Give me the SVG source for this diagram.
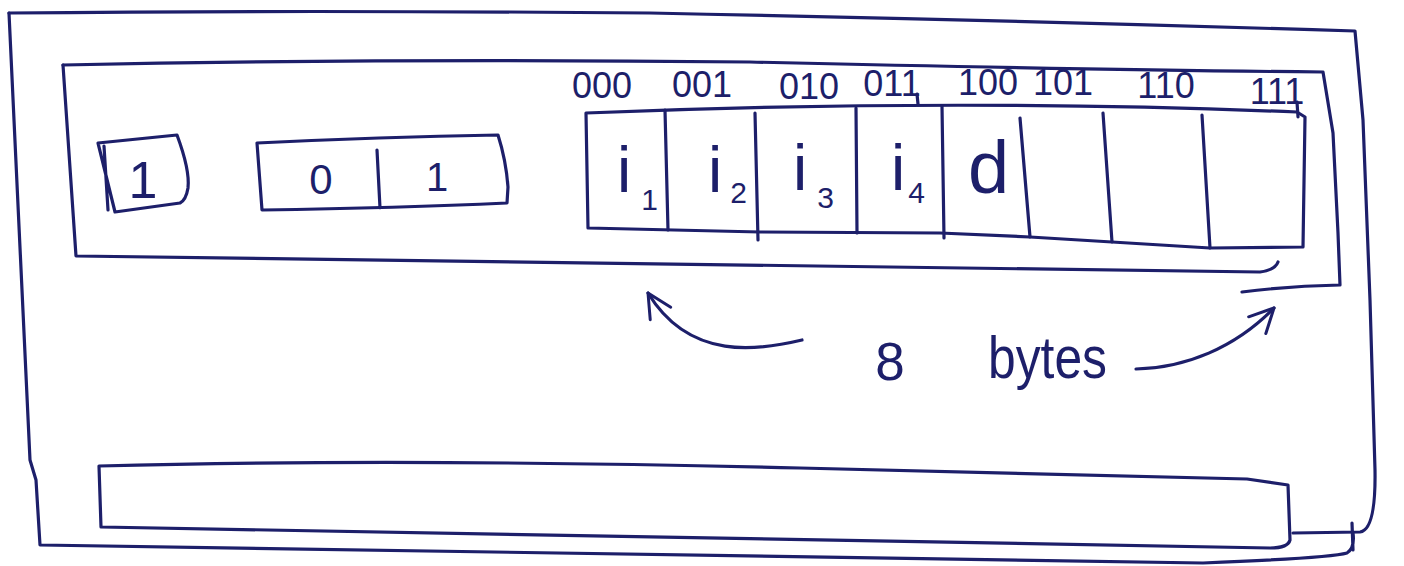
<svg xmlns="http://www.w3.org/2000/svg" width="1404" height="566" viewBox="0 0 1404 566">
<defs>
<style>
.ln{fill:none;stroke:#1d1f6a;stroke-width:3.2;stroke-linecap:round;stroke-linejoin:round}
.tx{font-family:"Liberation Sans",Arial,sans-serif;fill:#1d1f6a;font-weight:normal}
.lab{font-size:36px}
.ix{font-size:64px}
.sub{font-size:30px}
</style>
<marker id="ah" viewBox="0 0 28 28" refX="26" refY="14" markerWidth="28" markerHeight="28" markerUnits="userSpaceOnUse" orient="auto">
<path d="M2,2 L26,14 L2,26" fill="none" stroke="#1d1f6a" stroke-width="3" stroke-linecap="round" stroke-linejoin="round"/>
</marker>
</defs>
<rect width="1404" height="566" fill="#ffffff"/>
<g id="outer-box">
<path class="ln" d="M9,13 Q300,10 650,13 Q1000,20 1355,31 L1363,120 L1370,300 L1375,470 Q1376,530 1360,532 L1293,533"/>
<path class="ln" d="M9,13 L14,120 L30,460 L36,480 L40,545 Q600,552 1203,563 Q1330,558 1347,553 Q1355,548 1353,533 M1352,523 L1353,550"/>
</g>
<g id="inner-box">
<path class="ln" d="M63,65 Q400,58 750,62 Q1100,70 1323,72 L1333,133 L1338,233 L1340,285 Q1290,286 1242,292"/>
<path class="ln" d="M63,65 L76,256 Q600,262 1260,272 Q1275,270 1278,262"/>
</g>
<g id="bottom-box">
<path class="ln" d="M99,466 Q400,458 800,468 Q1100,476 1247,479 L1288,485 L1290,540 Q1288,548 1270,548 Q700,540 101,527 Z"/>
</g>
<g id="cell-1">
<path class="ln" d="M98,143 L177,135 Q190,170 188,188 Q186,200 180,203 L115,212 Z M104,146 L108,210"/>
<text class="tx" x="143" y="198" font-size="52" text-anchor="middle">1</text>
</g>
<g id="cell-01">
<path class="ln" d="M257,143 Q380,137 498,135 Q506,160 508,187 L507,203 Q400,208 262,210 Z M377,150 L380,208"/>
<text class="tx" x="321" y="194" font-size="42" text-anchor="middle">0</text>
<text class="tx" x="437" y="191" font-size="40" text-anchor="middle">1</text>
</g>
<g id="byte-array">
<path class="ln" d="M586,113 Q950,98 1297,112 L1305,117 L1303,247 L1210,248 L1112,242 L1030,237 L940,233 L760,232 L588,228 Z"/>
<path class="ln" d="M665,110 L668,230 M755,113 L758,240 M856,108 L857,233 M942,106 L944,238 M1020,118 L1030,237 M1103,113 L1112,242 M1202,115 L1210,248"/>
<text class="tx ix" x="617" y="192">i<tspan class="sub" dx="10" dy="18">1</tspan></text>
<text class="tx ix" x="708" y="192">i<tspan class="sub" dx="8" dy="11">2</tspan></text>
<text class="tx ix" x="793" y="190">i<tspan class="sub" dx="10" dy="18">3</tspan></text>
<text class="tx ix" x="891" y="190">i<tspan class="sub" dx="3" dy="13">4</tspan></text>
<text class="tx" x="968" y="193" font-size="74">d</text>
</g>
<g id="labels">
<text class="tx lab" x="602" y="98" text-anchor="middle">000</text>
<text class="tx lab" x="702" y="97" text-anchor="middle">001</text>
<text class="tx lab" x="809" y="99" text-anchor="middle">010</text>
<text class="tx lab" x="892" y="96" text-anchor="middle">011</text>
<text class="tx lab" x="988" y="95" text-anchor="middle">100</text>
<text class="tx lab" x="1063" y="95" text-anchor="middle">101</text>
<text class="tx lab" x="1166" y="98" text-anchor="middle">110</text>
<text class="tx lab" x="1277" y="104" text-anchor="middle">111</text>
<path class="ln" d="M917,94 L918,104 M1297,102 L1298,117"/>
</g>
<g id="connectors">
<path class="ln" d="M802,340 C760,350 690,362 648,293" marker-end="url(#ah)"/>
<path class="ln" d="M1136,369 C1185,368 1235,348 1274,308" marker-end="url(#ah)"/>
</g>
<g id="caption">
<text class="tx" x="890" y="380" font-size="53" text-anchor="middle">8</text>
<text class="tx" x="988" y="378" font-size="59" textLength="119" lengthAdjust="spacingAndGlyphs">bytes</text>
</g>
</svg>
